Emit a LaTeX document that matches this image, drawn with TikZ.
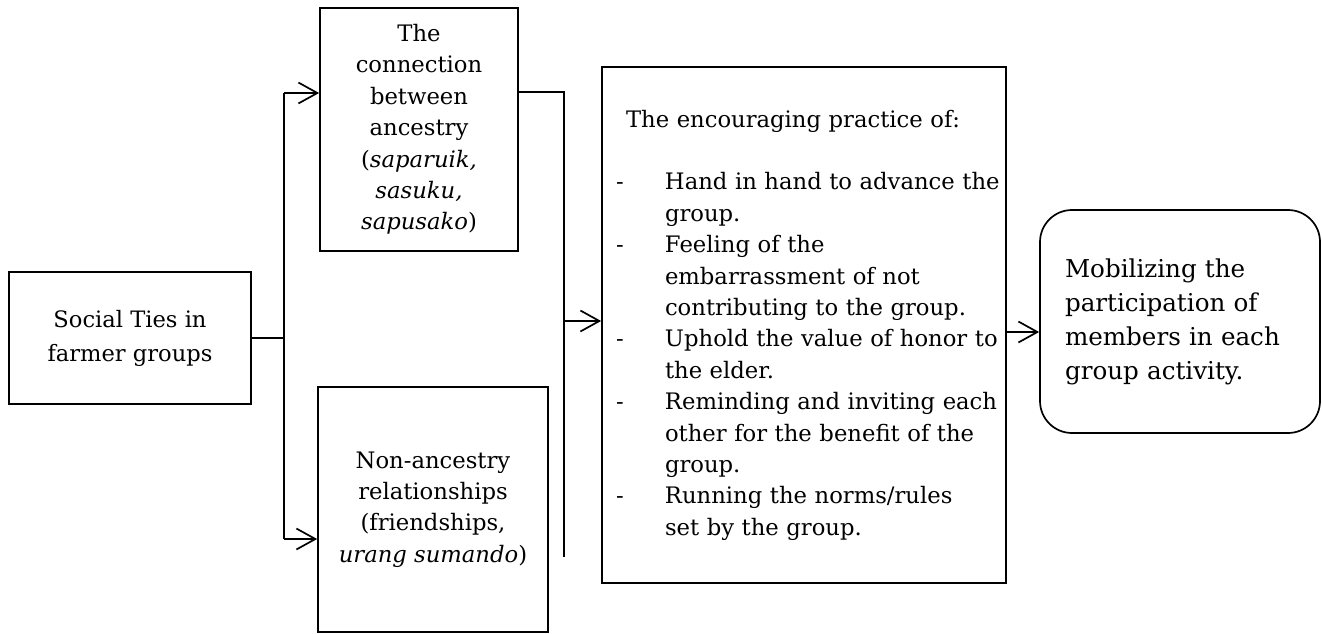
\documentclass[tikz,border=0pt]{standalone}
\usepackage{fontspec}
\setmainfont{DejaVu Serif}
\usetikzlibrary{arrows.meta}
\tikzset{
  box/.style={draw, line width=0.85pt, align=center, inner sep=0pt},
  bigtext/.style={font=\fontsize{12.3}{17}\selectfont},
  tiestext/.style={font=\fontsize{11.3}{17}\selectfont},
  smalltext/.style={font=\fontsize{11.35}{15.7}\selectfont},
  arr/.style={-{Straight Barb[length=9.5pt,width=10.5pt]}, line width=0.85pt}
}
\begin{document}
\begin{tikzpicture}[x=0.5pt,y=-0.5pt]
\useasboundingbox (0,0) rectangle (1322,633);

\node[box, tiestext, minimum width=121pt, minimum height=66pt] (ties) at (130,338) {Social Ties in\\farmer groups};
\node[box, smalltext, minimum width=99pt, minimum height=121.5pt] (ancestry) at (419,129.5)
  {The\\connection\\between\\ancestry\\(\textit{saparuik,}\\\textit{sasuku,}\\\textit{sapusako})};
\node[box, smalltext, minimum width=115pt, minimum height=122.5pt] (nonancestry) at (433,509.5)
  {Non-ancestry\\relationships\\(friendships,\\\textit{urang sumando})};
\node[box, smalltext, align=left, text width=188pt, inner xsep=7pt, minimum height=258pt] (practice) at (804,325)
  {\begin{tabular}{@{}l@{}l@{}}
   \multicolumn{2}{@{}l}{\hspace{5pt}The encouraging practice of:}\\
   & \\
   \makebox[24.5pt][l]{-} & Hand in hand to advance the\\
   & group.\\
   - & Feeling of the\\
   & embarrassment of not\\
   & contributing to the group.\\
   - & Uphold the value of honor to\\
   & the elder.\\
   - & Reminding and inviting each\\
   & other for the benefit of the\\
   & group.\\
   - & Running the norms/rules\\
   & set by the group.
   \end{tabular}};
\node[box, bigtext, rounded corners=16pt, align=left, text width=115pt, inner xsep=12.5pt, minimum height=111.5pt] (goal) at (1180,321.5)
  {Mobilizing the\\participation of\\members in each\\group activity.};

\coordinate (split) at (284,338);
\coordinate (up) at (284,93);
\coordinate (down) at (284,539);
\coordinate (jointop) at (564,92);
\coordinate (joinbot) at (564,557);
\coordinate (joinmid) at (564,321);
\coordinate (out) at (1006,332);

\draw[line width=0.85pt] (ties.east |- split) -- (split);
\draw[line width=0.85pt] (up) -- (down);
\draw[arr] (up) -- (up -| ancestry.west);
\draw[arr] (down) -- (down -| nonancestry.west);
\draw[line width=0.85pt] (jointop -| ancestry.east) -- (jointop) -- (joinbot);
\draw[arr] (joinmid) -- (joinmid -| practice.west);
\draw[arr] (out) -- (out -| goal.west);

\end{tikzpicture}
\end{document}
